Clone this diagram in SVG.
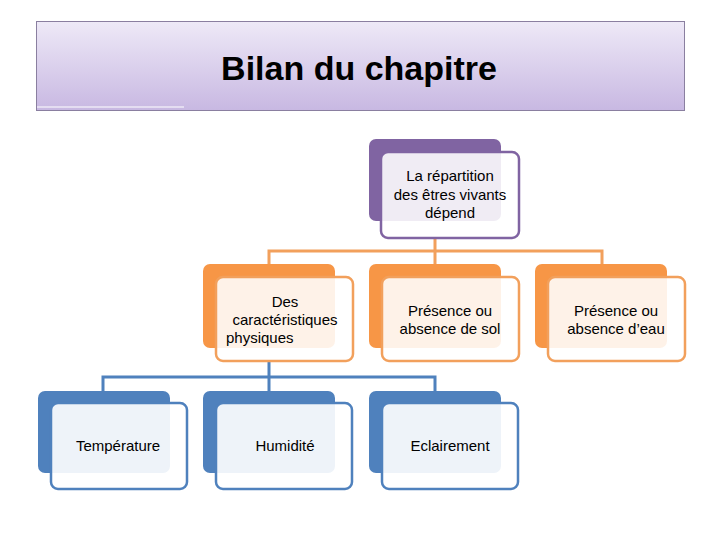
<svg xmlns="http://www.w3.org/2000/svg" width="720" height="540" viewBox="0 0 720 540">
<defs>
<linearGradient id="tg" x1="0" y1="0" x2="0" y2="1">
<stop offset="0" stop-color="#eee9f7"/>
<stop offset="1" stop-color="#c8b8e2"/>
</linearGradient>
</defs>
<style>
text{font-family:"Liberation Sans",Arial,sans-serif;font-size:15px;fill:#000;text-anchor:middle}
.title{font-size:34px;font-weight:bold}
.bp{fill:#8064a2}.fp{fill:#fff;fill-opacity:0.88;stroke:#8064a2;stroke-width:2.5}
.bo{fill:#f79646}.fo{fill:#fff;fill-opacity:0.88;stroke:#f2a05c;stroke-width:2.5}
.bb{fill:#4f81bd}.fb{fill:#fff;fill-opacity:0.9;stroke:#4f81bd;stroke-width:2.5}
.co{fill:none;stroke:#f2a05c;stroke-width:3}
.cb{fill:none;stroke:#4f81bd;stroke-width:3}
</style>
<rect width="720" height="540" fill="#fff"/>
<g id="title">
<rect x="36.5" y="21.5" width="648" height="89" fill="url(#tg)" stroke="#8a7fa0" stroke-width="1"/>
<line x1="37" y1="107" x2="184" y2="107" stroke="#fff" stroke-width="1.2"/>
<text class="title" x="359" y="80">Bilan du chapitre</text>
</g>
<g id="connectors">
<path class="co" d="M435 238V251M269 265V251H602V265M435 251V265"/>
<path class="cb" d="M269 361V377M103 391V377H435V391M269 377V391"/>
</g>
<g id="n-top">
<rect class="bp" x="369" y="139" width="132" height="82" rx="7"/>
<rect class="fp" x="381" y="152" width="138" height="86" rx="7"/>
<text x="450" y="181">La répartition</text>
<text x="450" y="200">des êtres vivants</text>
<text x="450" y="218">dépend</text>
</g>
<g id="n-caract">
<rect class="bo" x="203" y="264" width="132" height="84" rx="7"/>
<rect class="fo" x="216" y="277" width="137" height="84" rx="7"/>
<text x="285" y="307">Des</text>
<text x="285" y="325">caractéristiques</text>
<text x="226" y="343" style="text-anchor:start">physiques</text>
</g>
<g id="n-sol">
<rect class="bo" x="369" y="264" width="132" height="84" rx="7"/>
<rect class="fo" x="382" y="277" width="137" height="84" rx="7"/>
<text x="450" y="316">Présence ou</text>
<text x="450" y="334">absence de sol</text>
</g>
<g id="n-eau">
<rect class="bo" x="535" y="264" width="132" height="84" rx="7"/>
<rect class="fo" x="548" y="277" width="137" height="84" rx="7"/>
<text x="616" y="316">Présence ou</text>
<text x="616" y="334">absence d’eau</text>
</g>
<g id="n-temp">
<rect class="bb" x="38" y="391" width="132" height="82" rx="7"/>
<rect class="fb" x="51" y="403" width="136" height="86" rx="7"/>
<text x="118" y="451">Température</text>
</g>
<g id="n-hum">
<rect class="bb" x="203" y="391" width="132" height="82" rx="7"/>
<rect class="fb" x="216" y="403" width="136" height="86" rx="7"/>
<text x="285" y="451">Humidité</text>
</g>
<g id="n-ecl">
<rect class="bb" x="369" y="391" width="132" height="82" rx="7"/>
<rect class="fb" x="382" y="403" width="136" height="86" rx="7"/>
<text x="450" y="451">Eclairement</text>
</g>
</svg>
